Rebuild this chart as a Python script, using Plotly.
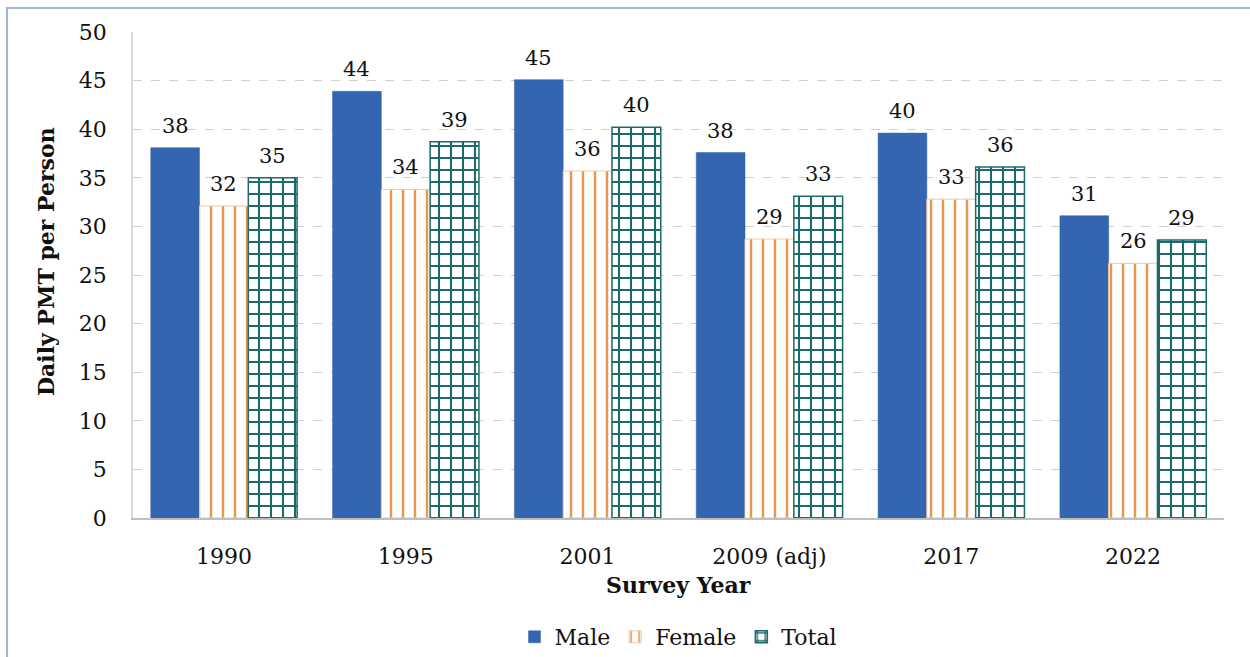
import plotly.graph_objects as go

# Survey years and average daily person-miles travelled (PMT) by sex
years = ["1990", "1995", "2001", "2009 (adj)", "2017", "2022"]
male = [38.1, 43.9, 45.1, 37.6, 39.6, 31.1]
female = [32.1, 33.8, 35.7, 28.7, 32.8, 26.2]
total = [35.0, 38.7, 40.2, 33.1, 36.1, 28.6]
y_ticks = [0, 5, 10, 15, 20, 25, 30, 35, 40, 45, 50]

FONT = "DejaVu Serif"
BLUE = "#3465B1"
ORANGE = "#E6984F"
TEAL = "#1D6A6D"
BARGAP = 0.195
PLOT_H = 486

fig = go.Figure()
fig.add_trace(go.Bar(
    name="Male", x=years, y=male,
    marker=dict(color=BLUE, line=dict(color=BLUE, width=0.5)),
))
fig.add_trace(go.Bar(
    name="Female", x=years, y=female,
    marker=dict(
        color="white",
        line=dict(color="#F2C9A0", width=1),
        pattern=dict(shape="|", fgcolor=ORANGE, bgcolor="white",
                     size=12, solidity=0.2, fillmode="replace"),
    ),
))
fig.add_trace(go.Bar(
    name="Total", x=years, y=total,
    marker=dict(
        color="white",
        line=dict(color=TEAL, width=1.5),
        pattern=dict(shape="+", fgcolor=TEAL, bgcolor="white",
                     size=12, solidity=0.32, fillmode="replace"),
    ),
))

# Rounded value labels above each bar
bar_w = (1 - BARGAP) / 3
annotations = []
for k, series in enumerate([male, female, total]):
    for i, v in enumerate(series):
        annotations.append(dict(
            x=i + (k - 1) * bar_w, y=v, xref="x", yref="y",
            text=f"{v:.0f}", showarrow=False, yanchor="bottom",
            yshift=8, font=dict(family=FONT, size=21, color="#111111"),
        ))

# Axis titles placed explicitly
annotations.append(dict(
    x=0.5, y=-67 / PLOT_H, xref="paper", yref="paper", showarrow=False,
    text="<b>Survey Year</b>", yanchor="middle",
    font=dict(family=FONT, size=22, color="#111111"),
))
annotations.append(dict(
    x=-(133 - 46) / 1091, y=(518 - 262) / PLOT_H, xref="paper", yref="paper",
    showarrow=False, text="<b>Daily PMT per Person</b>", textangle=-90,
    xanchor="center", yanchor="middle",
    font=dict(family=FONT, size=22, color="#111111"),
))

fig.update_layout(
    width=1250, height=657,
    margin=dict(l=133, r=26, t=32, b=139, autoexpand=False),
    paper_bgcolor="white", plot_bgcolor="white",
    barmode="group", bargap=BARGAP, bargroupgap=0,
    font=dict(family=FONT, size=21, color="#111111"),
    showlegend=True,
    legend=dict(orientation="h", x=0.5, xanchor="center", y=-119 / PLOT_H,
                yanchor="middle", font=dict(family=FONT, size=22),
                itemwidth=30, traceorder="normal"),
    annotations=annotations,
    shapes=[dict(type="rect", xref="paper", yref="paper",
                 x0=(7 - 133) / 1091, x1=1.2, y0=-0.5, y1=(518 - 8) / PLOT_H,
                 line=dict(color="#9BB7DE", width=2), fillcolor="rgba(0,0,0,0)",
                 layer="below")],
)
fig.update_xaxes(
    type="category", showgrid=False, showline=True, linecolor="#BFBFBF",
    linewidth=1.5, ticks="", ticklabelstandoff=18, automargin=False,
    tickfont=dict(family=FONT, size=22),
)
fig.update_yaxes(
    range=[0, 50], tickvals=y_ticks, showgrid=True, gridcolor="#D0D0D0",
    griddash="dash", gridwidth=1, showline=True, linecolor="#D9D9D9",
    linewidth=1.5, zeroline=False, ticks="", ticklabelstandoff=20,
    automargin=False, tickfont=dict(family=FONT, size=22),
)

fig.write_html("out.html")
